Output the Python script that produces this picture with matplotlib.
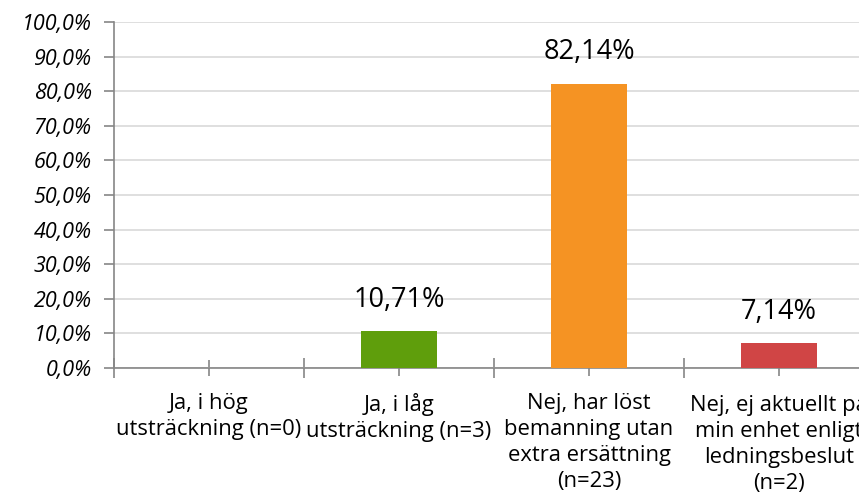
import matplotlib
matplotlib.use("Agg")
import matplotlib.pyplot as plt
from matplotlib.ticker import FuncFormatter, MultipleLocator

categories = [
    "Ja, i hög\nutsträckning (n=0)",
    "Ja, i låg\nutsträckning (n=3)",
    "Nej, har löst\nbemanning utan\nextra ersättning\n(n=23)",
    "Nej, ej aktuellt på\nmin enhet enligt\nledningsbeslut\n(n=2)",
]
values = [0.0, 10.71, 82.14, 7.14]
value_labels = ["", "10,71%", "82,14%", "7,14%"]
bar_colors = ["#5F9E0C", "#5F9E0C", "#F59323", "#D04545"]

plt.rcParams["font.family"] = ["Open Sans", "DejaVu Sans"]

fig = plt.figure(figsize=(8.59, 5.0), dpi=100)
# axes extends past the right edge, like the original export
ax = fig.add_axes([114 / 859, 1 - 368 / 500, 760 / 859, 346 / 500])

x = list(range(len(categories)))
ax.bar(x, values, width=0.4, color=bar_colors, zorder=3)
for xi, v, lab in zip(x, values, value_labels):
    if lab:
        ax.text(xi, v + 5.0, lab, ha="center", va="bottom", fontsize=19.5, color="#000000")

ax.set_xlim(-0.5, len(categories) - 0.5)
ax.set_ylim(0, 100)
ax.yaxis.set_major_locator(MultipleLocator(10))
ax.yaxis.set_major_formatter(FuncFormatter(lambda v, p: f"{v:.1f}%".replace(".", ",")))
ax.tick_params(axis="y", labelsize=15.5, length=7, width=1.2, color="#868686", pad=9)
for t in ax.get_yticklabels():
    t.set_fontstyle("italic")

ax.set_xticks([i + 0.5 for i in range(-1, len(categories))])
ax.set_xticklabels([])
ax.tick_params(axis="x", which="major", length=14, width=1.2, color="#868686", direction="inout")
ax.set_xticks(x, minor=True)
ax.set_xticklabels(categories, minor=True, fontsize=15.8, linespacing=1.32)
ax.tick_params(axis="x", which="minor", length=12, width=1.2, color="#868686",
               direction="inout", pad=12)

ax.grid(axis="y", color="#D9D9D9", linewidth=1.2, zorder=0)
for side in ["top", "right"]:
    ax.spines[side].set_visible(False)
for side in ["left", "bottom"]:
    ax.spines[side].set_color("#868686")
    ax.spines[side].set_linewidth(1.2)

fig.savefig("out.png", dpi=100)
